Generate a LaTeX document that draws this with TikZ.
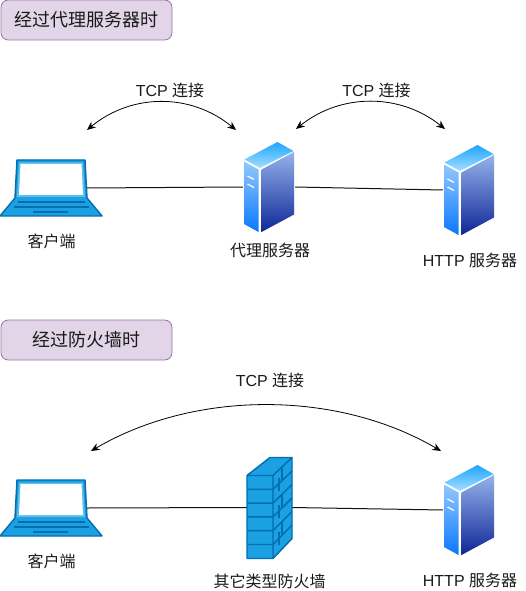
\documentclass[tikz,border=0pt]{standalone}
\usepackage{fontspec}
\setmainfont{Liberation Sans}
\newfontfamily\cjk{Noto Sans CJK SC}
\usetikzlibrary{arrows.meta}
\definecolor{iconfill}{HTML}{1BA1E2}
\definecolor{iconline}{HTML}{006EAF}
\definecolor{titlefill}{HTML}{E1D5E7}
\definecolor{titleline}{HTML}{9673A6}
\definecolor{linkgray}{HTML}{111111}
\definecolor{srvTopA}{HTML}{1CA6FF}
\definecolor{srvTopB}{HTML}{A6DEFF}
\definecolor{srvLeftA}{HTML}{93C8FF}
\definecolor{srvLeftB}{HTML}{0A78FF}
\definecolor{srvRightA}{HTML}{94B2EC}
\definecolor{srvRightB}{HTML}{0F2796}
\definecolor{inktext}{HTML}{1A1A1A}
\tikzset{
  titlebox/.style={draw=titleline,fill=titlefill,rounded corners=5.5pt,line width=0.6pt,minimum width=128.25pt,minimum height=30pt,inner sep=0pt,font=\fontsize{13.5}{15}\selectfont\cjk,text=inktext},
  label/.style={inner sep=0pt,font=\fontsize{12}{14}\selectfont,text=inktext},
  cjklabel/.style={label,font=\fontsize{12}{14}\selectfont\cjk},
  iconbox/.style={inner sep=0pt,outer sep=0pt},
  link/.style={draw=linkgray,line width=0.75pt},
  conn/.style={draw=black,line width=0.6pt,{Stealth[length=6.5pt,width=5.5pt]}-{Stealth[length=6.5pt,width=5.5pt]}},
  pics/laptop/.style={code={
    \draw[iconline,fill=iconfill,line width=1.1pt,line join=round] (17,0)--(85,0)--(87,38)--(102,56)--(0,56)--(15,38)--cycle;
    \fill[iconfill!70!white] (19,2.5)--(83,2.5)--(85,37)--(17,37)--cycle;
    \fill[white] (20.5,4)--(81.5,4)--(83,35)--(19,35)--cycle;
    \draw[iconline,line width=1pt] (18,42)--(85,42) (14,47)--(89,47) (33,52)--(68,52);
  }},
  pics/server/.style={code={
    \fill[white] (0,18)--(34.5,0)--(52,10)--(52,74)--(17,92.5)--(0,83)--cycle;
    \shade[top color=srvTopA,bottom color=srvTopB] (1.5,18.5)--(34.5,1)--(50.5,10)--(17,27)--cycle;
    \shade[top color=srvLeftA,bottom color=srvLeftB] (1,20.5)--(15.5,28.5)--(15.5,91)--(1,83)--cycle;
    \shade[top color=srvRightA,bottom color=srvRightB] (18.5,28.5)--(51,11)--(51,73.5)--(18.5,91)--cycle;
    \draw[white,line width=0.9pt] (4.5,35)--(11,38.5) (4.5,43)--(11,46.5);
  }},
  pics/firewall/.style={code={
    \draw[iconline,fill=iconfill,line width=1.1pt,line join=round] (0,18)--(23,0)--(45,0)--(45,81)--(26,101)--(0,101)--cycle;
    \draw[iconline,line width=1.1pt] (0,18)--(26,18)--(45,0) (26,18)--(26,101);
    \foreach \i in {1,...,5} {\draw[iconline,line width=1.1pt] (0,18+\i*13.8)--(26,18+\i*13.8)--(45,\i*13.5);}
    \foreach \i/\j in {0/0,1/1,2/0,3/1,4/0,5/1} {\draw[iconline,line width=1.1pt] (35+\j*-3,\i*13.5+9-\j*2)--(35+\j*-3,\i*13.5+22-\j*2);}
  }},
}
\begin{document}
\begin{tikzpicture}[x=0.75pt,y=-0.75pt]
\useasboundingbox (0,0) rectangle (525,591);
\fill[white] (0,0) rectangle (525,591);

% anchor nodes for the icons
\node[iconbox,minimum width=54pt,minimum height=42pt] (lapA) at (51,188) {};
\node[iconbox,minimum width=39pt,minimum height=69pt] (proxy) at (269,187) {};
\node[iconbox,minimum width=39pt,minimum height=69pt] (httpA) at (469,190) {};
\node[iconbox,minimum width=54pt,minimum height=42pt] (lapB) at (51,508) {};
\node[iconbox,minimum width=33.75pt,minimum height=75.75pt] (wall) at (269.5,507.5) {};
\node[iconbox,minimum width=39pt,minimum height=69pt] (httpB) at (469,510) {};

% connectors
\draw[link] (lapA.east) -- (proxy.west);
\draw[link] (proxy.east) -- (httpA.west);
\draw[link] (lapB.east) -- (wall.west);
\draw[link] (wall.east) -- (httpB.west);

\coordinate (a1) at (87,130);
\coordinate (a2) at (236,130);
\coordinate (b1) at (296,129);
\coordinate (b2) at (445,129);
\coordinate (c1) at (91,451);
\coordinate (c2) at (441,451);
\draw[conn] (a1) .. controls (132,93) and (191,93) .. (a2);
\draw[conn] (b1) .. controls (341,93) and (400,93) .. (b2);
\draw[conn] (c1) .. controls (195,390) and (337,390) .. (c2);

% icons
\pic at (0,160) {laptop};
\pic at (243,141) {server};
\pic at (443,144) {server};
\pic at (0,480) {laptop};
\pic at (247,457.5) {firewall};
\pic at (443,464) {server};

% texts
\node[titlebox] (t1) at (86.5,20) {经过代理服务器时};
\node[titlebox] (t2) at (86.5,340) {经过防火墙时};
\node[label] (l1) at (170,90) {TCP {\cjk 连接}};
\node[label] (l2) at (376.5,90) {TCP {\cjk 连接}};
\node[label] (l3) at (270,380) {TCP {\cjk 连接}};
\node[cjklabel] (n1) at (51.5,241) {客户端};
\node[cjklabel] (n2) at (270,250) {代理服务器};
\node[label] (n3) at (470,260) {HTTP {\cjk 服务器}};
\node[cjklabel] (n4) at (51.5,561) {客户端};
\node[cjklabel] (n5) at (269.5,581) {其它类型防火墙};
\node[label] (n6) at (470,580) {HTTP {\cjk 服务器}};
\end{tikzpicture}
\end{document}
